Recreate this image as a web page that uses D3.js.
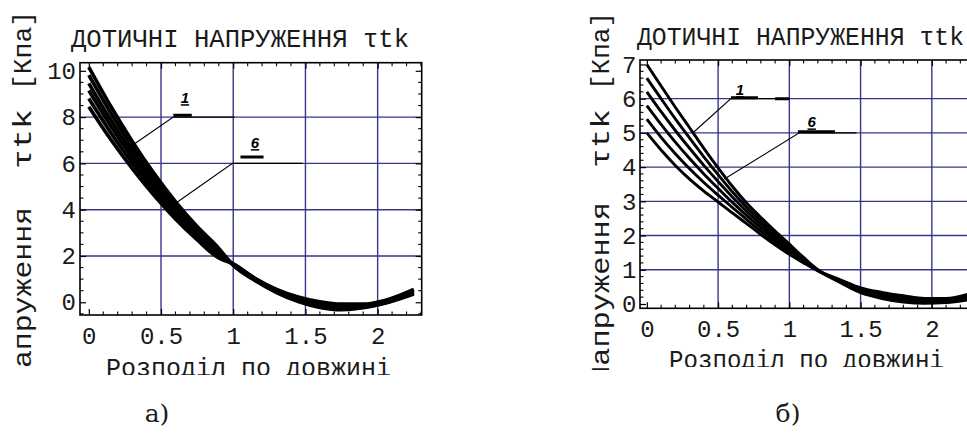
<!DOCTYPE html>
<html>
<head>
<meta charset="utf-8">
<script src="https://cdn.jsdelivr.net/npm/d3@7"></script>
<style>
  html, body { margin: 0; padding: 0; background: #fff; }
  svg { display: block; }
</style>
</head>
<body>
<svg id="fig" width="967" height="434"></svg>
<script>
// ---- texts ----
const titleText = "ДОТИЧНІ НАПРУЖЕННЯ τtk";
const xLabelText = "Розподіл по довжині";
const yLabelParts = ["Напруження", "τtk", "[Кпа]"];
const panelTags = ["а)", "б)"];

// ---- ticks and grid ----
const xTicks = [0, 0.5, 1, 1.5, 2];
const xTickLabels = ["0", "0.5", "1", "1.5", "2"];
const xGrid = [0.5, 1, 1.5, 2];
const leftYTicks = [0, 2, 4, 6, 8, 10];
const leftYGrid = [2, 4, 6, 8];
const rightYTicks = [0, 1, 2, 3, 4, 5, 6, 7];
const rightYGrid = [1, 2, 3, 4, 5, 6];

// ---- panel а): six stress curves along the length ----
const leftX = [0, 0.15, 0.3, 0.45, 0.6, 0.75, 0.9, 1.0, 1.15, 1.3, 1.45, 1.6, 1.75, 1.9, 2.05, 2.25];
const leftCurve1 = [10.16, 8.49, 6.96, 5.58, 4.35, 3.27, 2.33, 1.60, 0.94, 0.42, 0.03, -0.22, -0.32, -0.24, -0.04, 0.36];
const leftCurve2 = [9.81, 8.20, 6.72, 5.39, 4.20, 3.15, 2.25, 1.61, 0.96, 0.45, 0.07, -0.17, -0.27, -0.21, -0.02, 0.40];
const leftCurve3 = [9.46, 7.90, 6.48, 5.20, 4.05, 3.04, 2.16, 1.62, 0.98, 0.48, 0.11, -0.12, -0.22, -0.18, 0.01, 0.44];
const leftCurve4 = [9.15, 7.64, 6.26, 5.02, 3.91, 2.93, 2.08, 1.64, 1.00, 0.50, 0.15, -0.08, -0.18, -0.14, 0.03, 0.48];
const leftCurve5 = [8.80, 7.35, 6.02, 4.82, 3.75, 2.81, 2.00, 1.65, 1.02, 0.53, 0.19, -0.03, -0.13, -0.11, 0.06, 0.52];
const leftCurve6 = [8.45, 7.05, 5.78, 4.63, 3.60, 2.70, 1.91, 1.66, 1.04, 0.56, 0.23, 0.02, -0.08, -0.08, 0.08, 0.56];

// ---- panel б): six stress curves along the length ----
const rightX = [0, 0.1, 0.2, 0.3, 0.4, 0.5, 0.6, 0.7, 0.8, 0.9, 1.0, 1.1, 1.2, 1.35, 1.5, 1.65, 1.8, 1.95, 2.1, 2.25];
const rightCurve1 = [7.0, 6.37, 5.75, 5.15, 4.55, 3.98, 3.44, 2.95, 2.53, 2.13, 1.75, 1.36, 1.00, 0.64, 0.33, 0.16, 0.06, 0.02, 0.04, 0.12];
const rightCurve2 = [6.6, 6.00, 5.41, 4.85, 4.30, 3.78, 3.28, 2.83, 2.43, 2.05, 1.69, 1.33, 0.99, 0.66, 0.36, 0.20, 0.10, 0.05, 0.06, 0.15];
const rightCurve3 = [6.2, 5.62, 5.07, 4.55, 4.05, 3.58, 3.13, 2.71, 2.33, 1.97, 1.63, 1.30, 0.99, 0.67, 0.39, 0.23, 0.13, 0.08, 0.09, 0.18];
const rightCurve4 = [5.8, 5.25, 4.73, 4.25, 3.80, 3.38, 2.97, 2.59, 2.23, 1.89, 1.57, 1.26, 0.98, 0.69, 0.41, 0.27, 0.17, 0.10, 0.11, 0.22];
const rightCurve5 = [5.4, 4.87, 4.39, 3.95, 3.55, 3.18, 2.82, 2.47, 2.13, 1.81, 1.51, 1.23, 0.97, 0.70, 0.44, 0.30, 0.20, 0.13, 0.14, 0.25];
const rightCurve6 = [5.0, 4.50, 4.05, 3.65, 3.30, 2.98, 2.66, 2.35, 2.03, 1.73, 1.45, 1.20, 0.97, 0.72, 0.47, 0.34, 0.24, 0.16, 0.16, 0.28];

// ---- curve-number callouts (data units) ----
const leftCallouts = [
  { name: "1", leader: [[0.32, 6.86], [0.585, 8.0], [1.01, 8.0]], bar: [[0.585, 8.08], [0.713, 8.08]], at: [0.666, 8.6] },
  { name: "6", leader: [[0.606, 4.3], [0.995, 6.0], [1.48, 6.0]], bar: [[1.05, 6.28], [1.21, 6.28]], at: [1.151, 6.66] }
];
const rightCallouts = [
  { name: "1", leader: [[0.32, 4.99], [0.59, 6.0], [1.0, 6.0]], bar: [[0.59, 6.03], [0.78, 6.03]], bar2: [[0.9, 6.0], [1.0, 6.0]], at: [0.654, 6.1] },
  { name: "6", leader: [[0.544, 3.65], [1.07, 5.0], [1.47, 5.0]], bar: [[1.06, 5.03], [1.32, 5.03]], at: [1.157, 5.16] }
];

const svg = d3.select("#fig");
const MONO = "'Liberation Mono', 'DejaVu Sans Mono', monospace";
const GRID = "#36368c";
const INK = "#1a1a1a";

function drawPanel(cfg, idx) {
  const g = svg.append("g");
  const x = d3.scaleLinear().domain(cfg.xDomain).range([cfg.left, cfg.right]);
  const y = d3.scaleLinear().domain(cfg.yDomain).range([cfg.bottom, cfg.top]);

  const clipId = "plot" + idx;
  svg.append("clipPath").attr("id", clipId).append("rect")
    .attr("x", cfg.left).attr("y", cfg.top)
    .attr("width", cfg.right - cfg.left).attr("height", cfg.bottom - cfg.top);
  const plot = g.append("g").attr("clip-path", `url(#${clipId})`);

  // grid
  plot.selectAll(".gx").data(xGrid).join("line")
    .attr("x1", d => x(d)).attr("x2", d => x(d))
    .attr("y1", cfg.top).attr("y2", cfg.bottom)
    .attr("stroke", GRID).attr("stroke-width", 1.4);
  plot.selectAll(".gy").data(cfg.yGrid).join("line")
    .attr("x1", cfg.left).attr("x2", cfg.right)
    .attr("y1", d => y(d)).attr("y2", d => y(d))
    .attr("stroke", GRID).attr("stroke-width", 1.4);

  // curves
  const line = d3.line().x(d => x(d[0])).y(d => y(d[1])).curve(d3.curveMonotoneX);
  cfg.curves.forEach(vals => {
    plot.append("path")
      .datum(cfg.xs.map((xv, i) => [xv, vals[i]]))
      .attr("d", line)
      .attr("fill", "none").attr("stroke", "#000")
      .attr("stroke-width", cfg.curveWidth).attr("stroke-linejoin", "round");
  });

  // callouts
  const straight = d3.line().x(d => x(d[0])).y(d => y(d[1]));
  cfg.callouts.forEach(c => {
    plot.append("path").attr("d", straight(c.leader))
      .attr("fill", "none").attr("stroke", "#000").attr("stroke-width", 1.1);
    [c.bar, c.bar2].filter(Boolean).forEach(b => {
      plot.append("path").attr("d", straight(b))
        .attr("fill", "none").attr("stroke", "#000").attr("stroke-width", 3);
    });
    plot.append("text")
      .attr("x", x(c.at[0])).attr("y", y(c.at[1]))
      .attr("text-anchor", "middle")
      .attr("font-family", "'Liberation Sans', Arial, sans-serif")
      .attr("font-weight", "bold").attr("font-style", "italic")
      .attr("font-size", 15)
      .attr("text-decoration", "underline")
      .text(c.name);
  });

  // frame
  g.append("rect")
    .attr("x", cfg.left).attr("y", cfg.top)
    .attr("width", cfg.right - cfg.left).attr("height", cfg.bottom - cfg.top)
    .attr("fill", "none").attr("stroke", "#000").attr("stroke-width", 1.6);

  // minor ticks
  const xMinor = d3.range(0, cfg.xDomain[1], 0.1).filter(v => Math.abs(v * 2 - Math.round(v * 2)) > 1e-6);
  const yMinor = d3.range(Math.ceil(cfg.yDomain[0] / cfg.yMinorStep) * cfg.yMinorStep, cfg.yDomain[1], cfg.yMinorStep)
    .filter(v => !cfg.yTicks.some(t => Math.abs(t - v) < 1e-6));
  const tk = g.append("g").attr("stroke", "#000").attr("stroke-width", 1.1);
  xMinor.forEach(v => {
    tk.append("line").attr("x1", x(v)).attr("x2", x(v)).attr("y1", cfg.bottom).attr("y2", cfg.bottom - 3.5);
    tk.append("line").attr("x1", x(v)).attr("x2", x(v)).attr("y1", cfg.top).attr("y2", cfg.top + 3.5);
  });
  yMinor.forEach(v => {
    tk.append("line").attr("x1", cfg.left).attr("x2", cfg.left + 3.5).attr("y1", y(v)).attr("y2", y(v));
    tk.append("line").attr("x1", cfg.right).attr("x2", cfg.right - 3.5).attr("y1", y(v)).attr("y2", y(v));
  });

  // major ticks with labels
  const styleAxis = sel => {
    sel.select(".domain").remove();
    sel.selectAll(".tick line").attr("stroke", "#000").attr("stroke-width", 1.2);
    sel.selectAll("text").attr("font-family", MONO).attr("font-size", 24).attr("fill", INK);
  };
  g.append("g").attr("transform", `translate(0,${cfg.bottom})`)
    .call(d3.axisBottom(x).tickValues(xTicks).tickFormat((d, i) => xTickLabels[i]).tickSize(-6).tickPadding(12))
    .call(styleAxis);
  g.append("g").attr("transform", `translate(${cfg.left},0)`)
    .call(d3.axisLeft(y).tickValues(cfg.yTicks).tickFormat(d3.format("d")).tickSize(-6).tickPadding(cfg.yPad))
    .call(styleAxis);
  g.append("g").attr("transform", `translate(0,${cfg.top})`)
    .call(d3.axisTop(x).tickValues(xTicks).tickFormat("").tickSize(-6))
    .call(styleAxis);
  g.append("g").attr("transform", `translate(${cfg.right},0)`)
    .call(d3.axisRight(y).tickValues(cfg.yTicks).tickFormat("").tickSize(-6))
    .call(styleAxis);

  // title
  g.append("text")
    .attr("x", cfg.titleX[0]).attr("y", cfg.titleY)
    .attr("textLength", cfg.titleX[1] - cfg.titleX[0]).attr("lengthAdjust", "spacingAndGlyphs")
    .attr("font-family", MONO).attr("font-size", 25).attr("fill", INK)
    .text(titleText);

  // x-axis caption, cut off at the bottom
  const xcId = "xcap" + idx;
  svg.append("clipPath").attr("id", xcId).append("rect")
    .attr("x", 0).attr("y", 0).attr("width", 967).attr("height", cfg.xLabelClip);
  g.append("text")
    .attr("clip-path", `url(#${xcId})`)
    .attr("x", cfg.xLabelX[0]).attr("y", cfg.xLabelY)
    .attr("textLength", cfg.xLabelX[1] - cfg.xLabelX[0]).attr("lengthAdjust", "spacingAndGlyphs")
    .attr("font-family", MONO).attr("font-size", 25).attr("fill", INK)
    .text(xLabelText);

  // y-axis caption (rotated), cut off at the bottom
  const ycId = "ycap" + idx;
  svg.append("clipPath").attr("id", ycId).append("rect")
    .attr("x", 0).attr("y", 0).attr("width", 967).attr("height", cfg.yLabelClip);
  const yt = g.append("g").attr("clip-path", `url(#${ycId})`)
    .append("text")
    .attr("transform", `translate(${cfg.yLabelBase},0) rotate(-90)`)
    .attr("font-family", MONO).attr("font-size", 26).attr("fill", INK);
  yLabelParts.forEach((p, i) => {
    const span = cfg.yLabelSpans[i];
    yt.append("tspan")
      .attr("x", -span[0]).attr("y", 0)
      .attr("textLength", span[0] - span[1]).attr("lengthAdjust", "spacingAndGlyphs")
      .text(p);
  });

  // panel tag under the chart
  svg.append("text")
    .attr("x", cfg.tagX).attr("y", 422)
    .attr("text-anchor", "middle")
    .attr("font-family", "'DejaVu Serif', 'Liberation Serif', serif")
    .attr("font-size", 25).attr("fill", INK)
    .text(panelTags[idx]);
}

drawPanel({
  xDomain: [-0.061, 2.305], yDomain: [-0.55, 10.35],
  left: 80, right: 421.7, top: 62.7, bottom: 315,
  yTicks: leftYTicks, yGrid: leftYGrid, yMinorStep: 0.5, yPad: 4,
  xs: leftX, curveWidth: 3.6,
  curves: [leftCurve1, leftCurve2, leftCurve3, leftCurve4, leftCurve5, leftCurve6],
  callouts: leftCallouts,
  titleX: [71, 409], titleY: 47,
  xLabelX: [106, 391], xLabelY: 376, xLabelClip: 375,
  yLabelBase: 31, yLabelClip: 367,
  yLabelSpans: [[386, 207], [169, 109], [90, 11]],
  tagX: 157
}, 0);

drawPanel({
  xDomain: [-0.048, 2.305], yDomain: [-0.126, 7.13],
  left: 640, right: 975.3, top: 60, bottom: 308.3,
  yTicks: rightYTicks, yGrid: rightYGrid, yMinorStep: 0.2, yPad: 3.5,
  xs: rightX, curveWidth: 2.9,
  curves: [rightCurve1, rightCurve2, rightCurve3, rightCurve4, rightCurve5, rightCurve6],
  callouts: rightCallouts,
  titleX: [637, 964], titleY: 45,
  xLabelX: [669, 944], xLabelY: 368, xLabelClip: 367,
  yLabelBase: 609, yLabelClip: 370,
  yLabelSpans: [[384, 202], [168, 109], [90, 12]],
  tagX: 788
}, 1);
</script>
</body>
</html>
